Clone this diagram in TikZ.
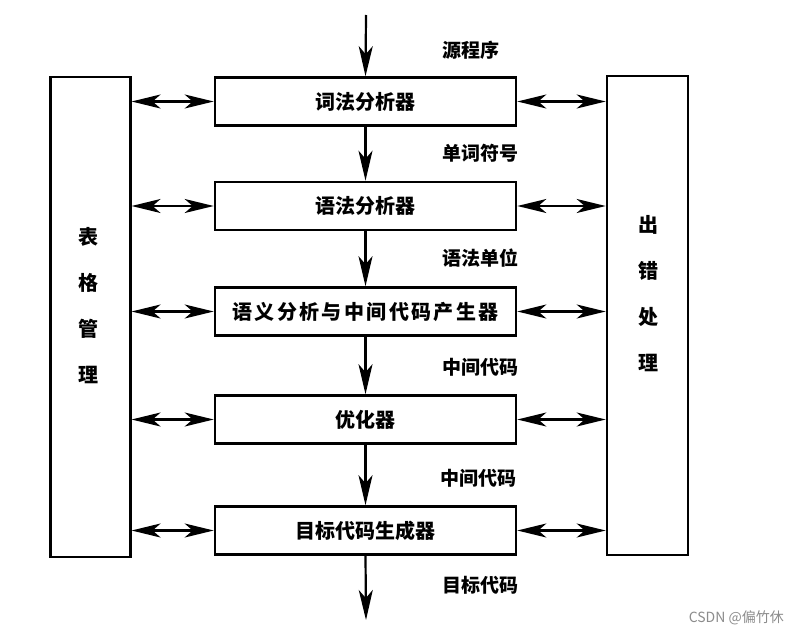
\documentclass[tikz,border=0pt]{standalone}
\usepackage{fontspec}
\newfontfamily\cjk{Noto Sans CJK SC}
\usetikzlibrary{arrows.meta}
\tikzset{
  proc/.style={draw, line width=2.6pt, minimum width=301pt, minimum height=48pt, inner sep=0pt,
    font=\cjk\bfseries\fontsize{20}{22}\selectfont},
  sidebox/.style={draw, line width=2.6pt, inner sep=0pt},
  sidetext/.style={align=center, inner sep=0pt, font=\cjk\bfseries\fontsize{20}{46}\selectfont},
  lbl/.style={anchor=west, inner sep=0pt, font=\cjk\bfseries\fontsize{19}{21}\selectfont},
  arr/.style={line width=2.2pt, -{Stealth[length=30pt,width=14pt,inset=8pt]}},
  dbl/.style={line width=2.2pt, {Stealth[length=29pt,width=14pt,inset=8pt]}-{Stealth[length=29pt,width=14pt,inset=8pt]}},
}
\begin{document}
\begin{tikzpicture}[x=1pt,y=-1pt]
\useasboundingbox[fill=white] (0,0) rectangle (800,634);
% side boxes
\node[sidebox, minimum width=79.5pt, minimum height=480pt] (L) at (90.5,317) {};
\node[sidebox, minimum width=81pt, minimum height=479pt] (R) at (647.5,315.5) {};
\node[sidetext] (Lt) at (88,305.5) {表\\格\\管\\理};
\node[sidetext] (Rt) at (648,293.5) {出\\错\\处\\理};
% process boxes
\node[proc] (b1) at (365.5,101.5) {词法分析器};
\node[proc] (b2) at (365.5,206) {语法分析器};
\node[proc] (b3) at (365.5,311.5) {\addfontfeature{LetterSpace=12}语义分析与中间代码产生器};
\node[proc] (b4) at (365.5,419.5) {优化器};
\node[proc] (b5) at (365.5,530.5) {目标代码生成器};
% flow
\coordinate (top) at (366,15);
\coordinate (bot) at (366,620);
\draw[arr] (top) -- (b1.north);
\draw[arr] (b1.south) -- (b2.north);
\draw[arr] (b2.south) -- (b3.north);
\draw[arr] (b3.south) -- (b4.north);
\draw[arr] (b4.south) -- (b5.north);
\draw[arr] (b5.south) -- (bot);
% labels
\node[lbl] (l0) at (442,50) {源程序};
\node[lbl] (l1) at (442,153) {单词符号};
\node[lbl] (l2) at (442,258) {语法单位};
\node[lbl] (l3) at (442,367) {中间代码};
\node[lbl] (l4) at (440,478) {中间代码};
\node[lbl] (l5) at (442,585) {目标代码};
% side connections
\foreach \b in {b1,b2,b3,b4,b5}{
  \draw[dbl] (L.east |- \b) -- (\b.west);
  \draw[dbl] (\b.east) -- (R.west |- \b);
}
% watermark
\node[anchor=east, inner sep=0pt, text=black!45, font=\cjk\fontsize{14}{16}\selectfont] (wm) at (784,618) {CSDN @偏竹休};
\end{tikzpicture}
\end{document}
